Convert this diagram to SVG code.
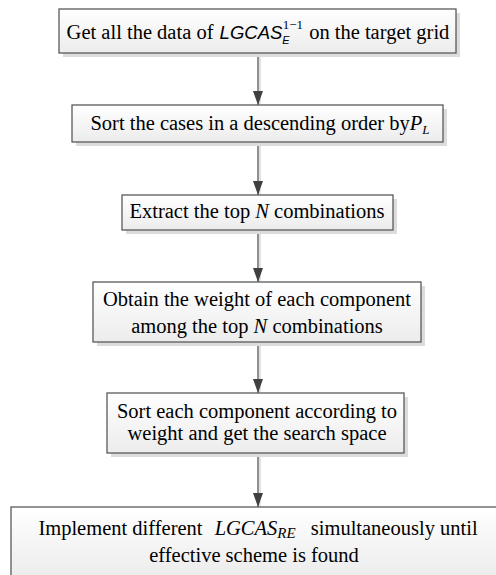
<svg xmlns="http://www.w3.org/2000/svg" width="496" height="575" viewBox="0 0 496 575">
  <defs>
    <linearGradient id="boxFill" x1="0" y1="0" x2="0" y2="1">
      <stop offset="0" stop-color="#ffffff"/>
      <stop offset="1" stop-color="#ececec"/>
    </linearGradient>
    <marker id="arrow" markerWidth="14" markerHeight="10" refX="14" refY="5" orient="auto" markerUnits="userSpaceOnUse" viewBox="0 0 14 10">
      <path d="M0,0 L14,5 L0,10 Z" fill="#404040"/>
    </marker>
    <style>
      .shadow { fill: #dcdcdc; }
      .box { fill: url(#boxFill); stroke: #5a5a5a; stroke-width: 1.3; }
      .t { font-family: "Liberation Serif", Tinos, "DejaVu Serif", serif; font-size: 20.5px; fill: #000; text-anchor: middle; }
      .it { font-style: italic; }
      .sans { font-family: "Liberation Sans", Arial, sans-serif; font-style: italic; }
      .conn { stroke: #555; stroke-width: 1.3; fill: none; }
      .connShadow { stroke: #d8d8d8; stroke-width: 1.5; fill: none; }
    </style>
  </defs>

  <!-- connectors -->
  <g id="connectors">
    <line class="connShadow" x1="260" y1="54" x2="260" y2="104"/>
    <line class="connShadow" x1="260" y1="143" x2="260" y2="194"/>
    <line class="connShadow" x1="260" y1="231" x2="260" y2="281"/>
    <line class="connShadow" x1="260" y1="343" x2="260" y2="392"/>
    <line class="connShadow" x1="260" y1="454" x2="260" y2="506"/>
    <line class="conn" x1="258" y1="53" x2="258" y2="105" marker-end="url(#arrow)"/>
    <line class="conn" x1="258" y1="142" x2="258" y2="195" marker-end="url(#arrow)"/>
    <line class="conn" x1="258" y1="230" x2="258" y2="282" marker-end="url(#arrow)"/>
    <line class="conn" x1="258" y1="342" x2="258" y2="393" marker-end="url(#arrow)"/>
    <line class="conn" x1="258" y1="453" x2="258" y2="507" marker-end="url(#arrow)"/>
  </g>

  <!-- step 1 -->
  <g id="step1">
    <rect class="shadow" x="63" y="13" width="397" height="44"/>
    <rect class="box" x="59" y="9" width="397" height="44"/>
    <text class="t" x="258" y="39">Get all the data of <tspan class="sans" font-size="18.5" dx="1">LGCAS</tspan><tspan class="sans" font-size="11" dy="5">E</tspan><tspan font-size="13" dx="-7" dy="-15">1−1</tspan><tspan dy="10" dx="1"> on the target grid</tspan></text>
  </g>

  <!-- step 2 -->
  <g id="step2">
    <rect class="shadow" x="76" y="109" width="371" height="37"/>
    <rect class="box" x="72" y="105" width="371" height="37"/>
    <text class="t" x="260" y="130">Sort the cases in a descending order by<tspan class="it">P</tspan><tspan class="it" font-size="13" dy="4">L</tspan></text>
  </g>

  <!-- step 3 -->
  <g id="step3">
    <rect class="shadow" x="126" y="199" width="271" height="35"/>
    <rect class="box" x="122" y="195" width="271" height="35"/>
    <text class="t" x="257" y="218">Extract the top <tspan class="it">N</tspan> combinations</text>
  </g>

  <!-- step 4 -->
  <g id="step4">
    <rect class="shadow" x="97" y="286" width="328" height="60"/>
    <rect class="box" x="93" y="282" width="328" height="60"/>
    <text class="t" x="257" y="306">Obtain the weight of each component</text>
    <text class="t" x="257" y="333">among the top <tspan class="it">N</tspan> combinations</text>
  </g>

  <!-- step 5 -->
  <g id="step5">
    <rect class="shadow" x="111" y="397" width="297" height="60"/>
    <rect class="box" x="107" y="393" width="297" height="60"/>
    <text class="t" x="257" y="418">Sort each component according to</text>
    <text class="t" x="257" y="440">weight and get the search space</text>
  </g>

  <!-- step 6 -->
  <g id="step6">
    <rect class="shadow" x="15" y="511" width="486" height="70"/>
    <rect class="box" x="11" y="507" width="486" height="70"/>
    <text class="t" x="258" y="535">Implement different <tspan class="it" dx="7">LGCAS</tspan><tspan class="it" font-size="15" dy="3">RE</tspan><tspan dy="-3" dx="10"> simultaneously until</tspan></text>
    <text class="t" x="254" y="562">effective scheme is found</text>
  </g>
</svg>
